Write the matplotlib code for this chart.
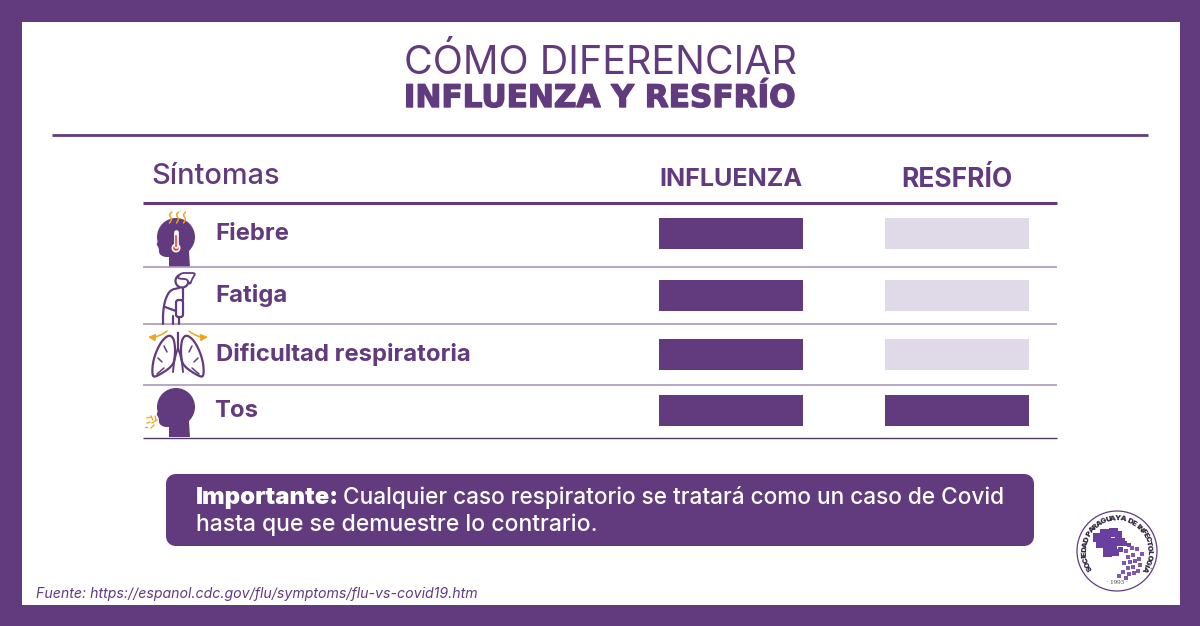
import numpy as np
import matplotlib
matplotlib.use("Agg")
import matplotlib.pyplot as plt
import matplotlib.patheffects as pe
from matplotlib.font_manager import FontProperties
from matplotlib.textpath import TextPath
from matplotlib.patches import Rectangle, FancyBboxPatch, Polygon, Circle, FancyArrowPatch

# dane z tabeli
sintomas = ["Fiebre", "Fatiga", "Dificultad respiratoria", "Tos"]
influenza = [1, 1, 1, 1]
resfrio = [0, 0, 0, 1]
columnas = ["INFLUENZA", "RESFRÍO"]

# uklad w pikselach
y_bar = [233.5, 295.5, 354.5, 410.5]
y_txt = [240, 302, 361, 417]
x_txt = [215.5, 215.5, 216, 214.5]
y_lin = [267, 324, 385]

morado = "#623B7E"
claro = "#E0D9E7"
linea = "#AC98BC"
naranja = "#F0A51E"
plt.rcParams['font.family'] = ['Inter', 'DejaVu Sans']

fig = plt.figure(figsize=(12, 6.26), dpi=100, facecolor=morado)
ax = fig.add_axes([0, 0, 1, 1])
ax.set_xlim(0, 1200)
ax.set_ylim(626, 0)
ax.axis("off")

ax.add_patch(Rectangle((22, 22), 1158, 583, fc="white", ec="none"))


def napis(x, y, s, size, weight="normal", ha="left", kolor=morado, **kw):
    return ax.text(x, y, s, ha=ha, va="baseline", fontsize=size, color=kolor, fontweight=weight, **kw)


def wygladz(pts, n=3, zamkniety=False):
    # wygladzanie lamanej (Chaikin)
    p = np.array(pts, dtype=float)
    for _ in range(n):
        a = p if zamkniety else p[:-1]
        b = np.roll(p, -1, axis=0) if zamkniety else p[1:]
        q = np.empty((len(a) * 2, 2))
        q[0::2] = 0.75 * a + 0.25 * b
        q[1::2] = 0.25 * a + 0.75 * b
        if not zamkniety:
            q = np.vstack([p[0], q, p[-1]])
        p = q
    return p


def kreska(pts, lw=1.6, kolor=morado, smooth=True):
    p = wygladz(pts) if smooth else np.array(pts, dtype=float)
    ax.plot(p[:, 0], p[:, 1], color=kolor, lw=lw, solid_capstyle="round", solid_joinstyle="round")


# tytul
napis(600, 74, "CÓMO DIFERENCIAR", 28.4, "normal", "center")
t2 = napis(600, 107, "INFLUENZA Y RESFRÍO", 22.4, "bold", "center", family="DejaVu Sans")
t2.set_path_effects([pe.withStroke(linewidth=1.0, foreground=morado)])
ax.plot([52, 1148], [134.5, 134.5], color=morado, lw=2, solid_capstyle="butt")

# naglowki
napis(151, 184, "Síntomas", 20.8, "medium")
napis(731, 186, columnas[0], 18.1, "bold", "center")
napis(957, 187, columnas[1], 19, "bold", "center")

# linie tabeli
ax.plot([143, 1057], [203, 203], color=morado, lw=2.2, solid_capstyle="butt")
for y in y_lin:
    ax.plot([143, 1057], [y, y], color=linea, lw=1.2, solid_capstyle="butt")
ax.plot([143, 1057], [437.5, 437.5], color="#4D3A5E", lw=1, solid_capstyle="butt")

# paski
for i in range(len(sintomas)):
    napis(x_txt[i], y_txt[i], sintomas[i], 17.2, "bold")
    ax.barh(y_bar[i], 144, left=659, height=31, color=morado if influenza[i] else claro)
    ax.barh(y_bar[i], 144, left=885, height=31, color=morado if resfrio[i] else claro)


# ikony
def glowa(dy):
    ax.add_patch(Circle((176, 237 + dy), 19, fc=morado, ec="none"))
    cara = wygladz([(170, 225), (161, 232), (159.5, 240), (156, 244), (159, 248), (159, 254), (164, 257), (169, 257)], 2)
    resto = [(169, 267), (190, 267), (189, 252), (190, 235)]
    ax.add_patch(Polygon([(x, y + dy) for x, y in list(cara) + resto], fc=morado, ec="none"))


glowa(0)
glowa(170)
# termometr
ax.plot([176, 176], [232, 246], color="white", lw=3.4, solid_capstyle="round")
ax.add_patch(Circle((176, 248), 4.5, fc="white", ec="none"))
ax.plot([176, 176], [236, 246], color="#EF4136", lw=1.2)
ax.add_patch(Circle((176, 248), 2.8, fc="#EF4136", ec="none"))
# para nad glowa
for x0 in [170.5, 177.5, 184.5]:
    kreska([(x0 + 1, 212), (x0 - 1.5, 215), (x0 + 1.5, 219), (x0 - 1, 223)], 1.1, naranja)
# kaszel
for x1, y1, x2, y2 in [(147, 418, 151, 417), (151, 416, 153, 420), (155, 416, 156, 420), (152, 423, 157, 420),
                       (147, 423, 150, 422), (151, 428, 154, 425), (145, 427, 147, 427)]:
    ax.plot([x1, x2], [y1, y2], color=naranja, lw=0.9)

# postac - zmeczenie
ax.add_patch(Circle((182, 281), 6.5, fc="white", ec=morado, lw=1.6))
fryzura = wygladz([(177, 278), (181, 273), (188, 273), (196, 273), (192, 279), (190, 285), (187, 279), (182, 279)], 2, True)
ax.add_patch(Polygon(fryzura, fc="white", ec=morado, lw=1.3))
kreska([(179, 288), (170, 290), (165, 300), (163, 312), (163, 324)])
kreska([(183, 288), (183, 300)], smooth=False)
kreska([(165, 307), (176, 311)], smooth=False)
ax.add_patch(FancyBboxPatch((176, 300), 7, 17, boxstyle="round,pad=0,rounding_size=2.5", fc="white", ec=morado, lw=1.6))
kreska([(173, 316), (173, 324)], smooth=False)
kreska([(178.5, 317), (178.5, 324)], smooth=False)

# pluca
for s in [-1, 1]:
    bok = lambda v: [178 + s * a for a in v]
    plat = wygladz(list(zip(bok([5, 10, 18, 25, 26, 22, 5, 3, 3]), [337, 335, 343, 360, 376, 377, 366, 356, 345])), 2, True)
    ax.add_patch(Polygon(plat, fc="white", ec=morado, lw=1.6, joinstyle="round"))
    kreska(list(zip(bok([0, 2, 4, 5]), [348, 354, 362, 372])), 1.4)
    kreska(list(zip(bok([14, 11]), [346, 352])), 1.1)
    kreska(list(zip(bok([20, 16]), [358, 362])), 1.1)
    kreska(list(zip(bok([14, 21]), [368, 374])), 1.1)
    ax.add_patch(FancyArrowPatch((178 + s * 11, 331), (178 + s * 30, 337), connectionstyle=f"arc3,rad={0.2 * s}",
                                 arrowstyle="-|>", mutation_scale=10, color=naranja, lw=1.1, shrinkA=0, shrinkB=0))
ax.plot([178, 178], [333, 348], color=morado, lw=1.6)

# ramka z tekstem
ax.add_patch(FancyBboxPatch((172, 480), 856, 60, boxstyle="round,pad=0,rounding_size=4", fc=morado, ec=morado,
                            lw=12 * 0.72, joinstyle="round"))
napis(196, 504, "Importante:", 17.2, "black", kolor="white")
napis(343, 504, "Cualquier caso respiratorio se tratará como un caso de Covid", 16.3, "medium", kolor="white")
napis(196, 531, "hasta que se demuestre lo contrario.", 16.5, "medium", kolor="white")

# zrodlo
napis(36, 598, "Fuente: https://espanol.cdc.gov/flu/symptoms/flu-vs-covid19.htm", 10.2, style="italic")

# logo
cx, cy, r = 1117, 551, 40
ax.add_patch(Circle((cx, cy), r, fc="white", ec=morado, lw=0.9))
logo = "SOCIEDAD PARAGUAYA DE INFECTOLOGÍA"
fp = FontProperties(family="Inter", weight="black")
# szerokosc liter, zeby odstepy na okregu byly rowne
szer = np.array([TextPath((0, 0), c, size=10, prop=fp).get_extents().width + 1.4 if c != " " else 4.0 for c in logo])
srodki = np.cumsum(szer) - szer / 2
kat = 212 - 244 * (srodki - srodki[0]) / (srodki[-1] - srodki[0])
for ch, a in zip(logo, kat):
    x = cx + 32.5 * np.cos(np.radians(a))
    y = cy - 32.5 * np.sin(np.radians(a))
    ax.text(x, y, ch, ha="center", va="center", rotation=a - 90, rotation_mode="anchor", fontsize=5.6,
            color="#33263F", fontweight="black")
ax.text(cx, 582, "· 1993 ·", ha="center", va="center", fontsize=5, color="#444444", family="Liberation Serif")
for x, y, s_ in [(1100, 529, 11), (1093, 533, 9), (1109, 528, 9), (1096, 540, 8), (1104, 538, 13), (1115, 531, 7),
                 (1117, 538, 8), (1103, 548, 9), (1112, 549, 7), (1122, 541, 5), (1118, 547, 5), (1127, 543, 4)]:
    ax.add_patch(Rectangle((x, y), s_, s_, fc="#6B3FA0", ec="none"))
for x, y in [(1124, 549), (1130, 546), (1135, 547), (1140, 552), (1126, 555), (1131, 553), (1137, 557), (1122, 561),
             (1128, 560), (1133, 559), (1138, 563), (1126, 566), (1131, 565), (1136, 569), (1121, 570), (1127, 572),
             (1132, 571), (1117, 574), (1124, 576)]:
    ax.add_patch(Rectangle((x, y), 3.6, 3.6, fc="#8058B0", ec="none"))

fig.savefig("out.png", dpi=100, facecolor=morado)
